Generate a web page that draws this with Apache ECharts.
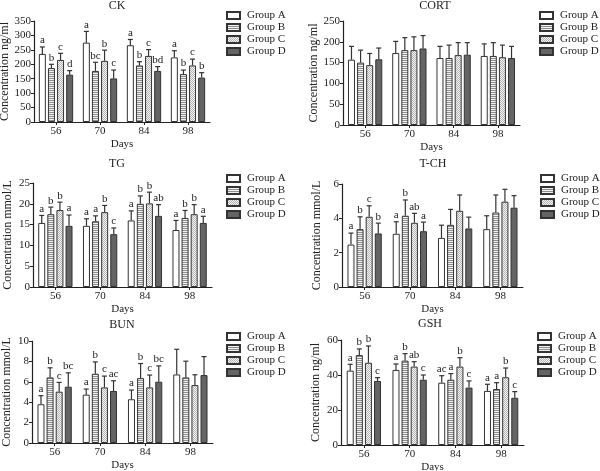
<!DOCTYPE html>
<html>
<head>
<meta charset="utf-8">
<script src="https://cdn.jsdelivr.net/npm/echarts@6/dist/echarts.min.js"></script>
<style>
html,body{margin:0;padding:0;background:#fff;}
#c{width:600px;height:471px;}
</style>
</head>
<body>
<div id="c"></div>
<script>
// ---------- DATA ----------
const days = ['56', '70', '84', '98'];
const groups = ['Group A', 'Group B', 'Group C', 'Group D'];
const panelTitles = ['CK', 'CORT', 'TG', 'T-CH', 'BUN', 'GSH'];
const yNames = ['Concentration ng/ml', 'Concentration ng/ml', 'Concentration mmol/L', 'Concentration mmol/L', 'Concentration mmol/L', 'Concentration ng/ml'];
const yMax = [350, 250, 25, 6, 10, 60];
const yStep = [50, 50, 5, 2, 2, 20];

// CK (per group, over days 56,70,84,98)
const ckMean = [[236, 275, 266, 224], [187, 177, 196, 166], [215, 212, 229, 196], [164, 151, 177, 154]];
const ckSD = [[24, 39, 20, 23], [13, 30, 13, 14], [23, 37, 22, 22], [14, 29, 15, 17]];
const ckLet = [['a', 'a', 'a', 'a'], ['b', 'bc', 'b', 'b'], ['c', 'b', 'c', 'c'], ['d', 'c', 'bd', 'b']];

// CORT
const cortMean = [[157, 173, 161, 166], [150, 180, 161, 166], [144, 180, 168, 163], [158, 184, 169, 161]];
const cortSD = [[32, 28, 28, 29], [30, 30, 31, 32], [28, 32, 30, 29], [27, 31, 29, 28]];
const cortLet = [['', '', '', ''], ['', '', '', ''], ['', '', '', ''], ['', '', '', '']];

// TG
const tgMean = [[15.4, 14.7, 16.0, 13.7], [17.5, 15.8, 20.0, 16.6], [18.5, 18.0, 20.1, 17.5], [14.7, 12.7, 17.1, 15.4]];
const tgSD = [[1.8, 1.7, 2.3, 2.3], [1.7, 1.3, 1.9, 1.8], [1.9, 1.6, 2.7, 2.3], [2.6, 1.5, 2.7, 1.6]];
const tgLet = [['a', 'a', 'a', 'a'], ['b', 'a', 'b', 'b'], ['b', 'b', 'b', 'b'], ['a', 'c', 'ab', 'a']];

// T-CH
const tchMean = [[2.47, 3.10, 2.86, 3.37], [3.37, 4.15, 3.62, 4.34], [4.09, 3.74, 4.44, 4.97], [3.12, 3.25, 3.41, 4.62]];
const tchSD = [[0.67, 0.70, 0.74, 0.78], [0.72, 0.92, 0.90, 1.02], [0.64, 0.55, 0.92, 0.72], [0.60, 0.53, 0.66, 0.70]];
const tchLet = [['a', 'a', '', ''], ['b', 'b', '', ''], ['c', 'ab', '', ''], ['b', 'a', '', '']];

// BUN
const bunMean = [[3.80, 4.74, 4.29, 6.72], [6.43, 6.79, 6.36, 6.43], [5.03, 5.45, 5.45, 5.68], [5.52, 5.10, 6.01, 6.66]];
const bunSD = [[0.84, 0.55, 0.90, 2.47], [0.94, 1.16, 1.43, 1.59], [0.91, 1.11, 1.21, 1.01], [1.36, 1.00, 1.55, 1.81]];
const bunLet = [['a', 'a', 'a', ''], ['b', 'b', 'b', ''], ['c', 'c', 'c', ''], ['bc', 'ac', 'bc', '']];

// GSH
const gshMean = [[42.5, 42.9, 35.6, 30.9], [51.4, 48.2, 37.3, 32.0], [47.0, 44.8, 44.8, 38.7], [36.6, 37.3, 32.8, 27.0]];
const gshSD = [[3.6, 3.4, 4.0, 3.8], [3.5, 4.0, 3.5, 3.6], [9.6, 2.8, 5.1, 5.3], [1.9, 2.7, 3.8, 3.5]];
const gshLet = [['a', 'a', 'ac', 'a'], ['b', 'b', 'a', 'a'], ['b', 'ab', 'b', 'b'], ['c', 'c', 'c', 'c']];

const means = [ckMean, cortMean, tgMean, tchMean, bunMean, gshMean];
const sds = [ckSD, cortSD, tgSD, tchSD, bunSD, gshSD];
const lets = [ckLet, cortLet, tgLet, tchLet, bunLet, gshLet];

// ---------- LAYOUT / STYLE ----------
const FONT = '"Liberation Serif","DejaVu Serif",serif';
const INK = '#222';
const layout = [
  {left: 34, top: 21, width: 176, height: 101, title: [117, 6], legend: [226, 10]},
  {left: 343, top: 21, width: 177, height: 104, title: [435, 6], legend: [539, 10]},
  {left: 33, top: 183, width: 179, height: 104, title: [117, 164], legend: [226, 173]},
  {left: 342, top: 184, width: 181, height: 103, title: [433, 164], legend: [540, 173]},
  {left: 32, top: 341, width: 181, height: 102, title: [122, 325], legend: [226, 331]},
  {left: 341, top: 340, width: 183, height: 105, title: [430, 324], legend: [537, 331]}
];
const BARW = 7, GAP = 0.3, PITCH = BARW * (1 + GAP), CAP = 2.5;

function pattern(w, h, draw) {
  const cv = document.createElement('canvas');
  cv.width = w; cv.height = h;
  const ctx = cv.getContext('2d');
  draw(ctx);
  return {image: cv, repeat: 'repeat'};
}
const fillA = '#ffffff';
const fillB = pattern(2, 2, ctx => { ctx.fillStyle = '#f2f2f2'; ctx.fillRect(0, 0, 2, 2); ctx.fillStyle = '#8e8e8e'; ctx.fillRect(0, 0, 2, 1); });
const fillC = pattern(2, 2, ctx => { ctx.fillStyle = '#f4f4f4'; ctx.fillRect(0, 0, 2, 2); ctx.fillStyle = '#b4b4b4'; ctx.fillRect(0, 0, 1, 1); ctx.fillRect(1, 1, 1, 1); });
const fillD = '#646464';
const fills = [fillA, fillB, fillC, fillD];

const grids = [], xAxes = [], yAxes = [], series = [], legends = [], graphics = [];

for (let p = 0; p < 6; p++) {
  const L = layout[p];
  grids.push({left: L.left, top: L.top, width: L.width, height: L.height, containLabel: false, outerBoundsMode: 'none'});
  xAxes.push({
    type: 'category', gridIndex: p, data: days,
    axisLine: {lineStyle: {color: INK, width: 1.2}},
    axisTick: {show: true, alignWithLabel: true, length: 3, lineStyle: {color: INK}},
    axisLabel: {color: INK, fontSize: 11, fontFamily: FONT, margin: 4},
    name: 'Days', nameLocation: 'middle', nameGap: 17,
    nameTextStyle: {color: INK, fontSize: 11, fontFamily: FONT}
  });
  yAxes.push({
    type: 'value', gridIndex: p, min: 0, max: yMax[p], interval: yStep[p],
    axisLine: {show: true, lineStyle: {color: INK, width: 1.2}},
    axisTick: {show: true, length: 3, lineStyle: {color: INK}},
    splitLine: {show: false},
    axisLabel: {color: INK, fontSize: 11, fontFamily: FONT, margin: 3},
    name: yNames[p], nameLocation: 'middle', nameGap: 19,
    nameTextStyle: {color: INK, fontSize: 12, fontFamily: FONT}
  });
  for (let g = 0; g < 4; g++) {
    series.push({
      type: 'bar', name: groups[g], xAxisIndex: p, yAxisIndex: p,
      data: means[p][g], barWidth: BARW, barGap: (GAP * 100) + '%',
      itemStyle: {color: fills[g], borderColor: '#333', borderWidth: 1},
      emphasis: {disabled: true}, animation: false
    });
  }
  for (let g = 0; g < 4; g++) {
    const mean = means[p][g], sd = sds[p][g], lt = lets[p][g];
    series.push({
      type: 'custom', xAxisIndex: p, yAxisIndex: p, z: 5, silent: true, animation: false,
      data: mean.map((m, i) => [i, m, m + sd[i]]),
      renderItem: (params, api) => {
        const i = api.value(0);
        const base = api.coord([i, api.value(1)]);
        const top = api.coord([i, api.value(2)]);
        const x = base[0] + (g - 1.5) * PITCH;
        const ch = [
          {type: 'line', shape: {x1: x, y1: base[1], x2: x, y2: top[1]}, style: {stroke: '#333', lineWidth: 1.2}},
          {type: 'line', shape: {x1: x - CAP, y1: top[1], x2: x + CAP, y2: top[1]}, style: {stroke: '#333', lineWidth: 1.2}}
        ];
        if (lt[i]) {
          ch.push({type: 'text', x: x, y: top[1] - 1, style: {text: lt[i], align: 'center', verticalAlign: 'bottom', font: '11px ' + FONT, fill: INK}});
        }
        return {type: 'group', children: ch};
      }
    });
  }
  legends.push({
    orient: 'vertical', left: L.legend[0], top: L.legend[1], padding: 0,
    itemWidth: 13, itemHeight: 7, itemGap: 1, icon: 'rect', selectedMode: false,
    data: groups, textStyle: {color: INK, fontSize: 11, fontFamily: FONT, padding: [0, 0, 0, 2]}
  });
  graphics.push({
    type: 'text', x: L.title[0], y: L.title[1],
    style: {text: panelTitles[p], align: 'center', verticalAlign: 'middle', font: '12px ' + FONT, fill: INK}
  });
}

const chart = echarts.init(document.getElementById('c'), null, {renderer: 'canvas'});
chart.setOption({
  animation: false,
  backgroundColor: '#fff',
  grid: grids, xAxis: xAxes, yAxis: yAxes, series: series, legend: legends, graphic: graphics
});
</script>
</body>
</html>
